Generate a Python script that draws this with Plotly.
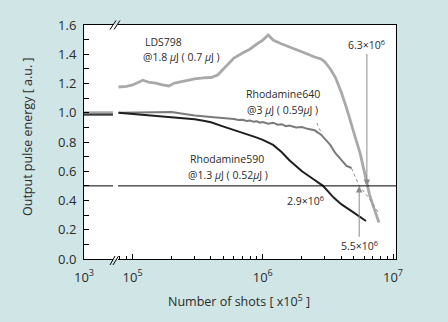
import math
import plotly.graph_objects as go

# ---- data -------------------------------------------------------------
# short initial segment (10^3 side of the broken axis)
early_shots = [1.0e3, 1.6e3, 2.5e3, 4.0e3, 5.6e3]
early_lds798 = [1.000, 1.000, 0.999, 1.000, 1.000]
early_rh640 = [0.990, 0.991, 0.990, 0.990, 0.991]
early_rh590 = [0.985, 0.984, 0.985, 0.984, 0.985]

# LDS798 @1.8 uJ (0.7 uJ)
lds798_shots = [7.8e4, 9.0e4, 1.0e5, 1.1e5, 1.2e5, 1.35e5, 1.5e5, 1.7e5, 1.9e5,
                2.1e5, 2.3e5, 2.6e5, 3.0e5, 3.5e5, 4.0e5, 4.5e5, 5.0e5, 5.5e5,
                6.0e5, 7.0e5, 8.0e5, 9.0e5, 1.0e6, 1.1e6, 1.2e6, 1.4e6, 1.6e6,
                1.8e6, 2.0e6, 2.2e6, 2.5e6, 2.8e6, 3.0e6, 3.3e6, 3.6e6, 4.0e6,
                4.4e6, 4.8e6, 5.2e6, 5.6e6, 6.0e6, 6.3e6, 6.6e6, 7.0e6, 7.5e6,
                7.8e6]
lds798_energy = [1.176, 1.180, 1.190, 1.205, 1.222, 1.207, 1.203, 1.190, 1.183,
                 1.203, 1.210, 1.224, 1.231, 1.238, 1.241, 1.258, 1.300, 1.340,
                 1.374, 1.409, 1.436, 1.470, 1.497, 1.532, 1.497, 1.470, 1.450,
                 1.436, 1.415, 1.402, 1.381, 1.368, 1.347, 1.299, 1.244, 1.142,
                 1.032, 0.909, 0.814, 0.720, 0.600, 0.500, 0.440, 0.370, 0.300,
                 0.250]

# Rhodamine640 @3 uJ (0.59 uJ)
rh640_shots = [7.8e4, 1.0e5, 1.5e5, 2.0e5, 2.5e5, 3.0e5, 4.0e5, 5.0e5, 5.5e5,
               6.0e5, 6.5e5, 7.0e5, 7.5e5, 8.0e5, 8.5e5, 9.0e5, 9.5e5, 1.0e6,
               1.1e6, 1.2e6, 1.3e6, 1.4e6, 1.5e6, 1.6e6, 1.8e6, 2.0e6, 2.2e6,
               2.5e6, 2.8e6, 3.0e6, 3.3e6, 3.6e6, 4.0e6, 4.4e6, 4.8e6]
rh640_energy = [1.000, 1.000, 1.005, 1.005, 0.991, 0.981, 0.971, 0.964, 0.958,
                0.957, 0.950, 0.952, 0.944, 0.947, 0.938, 0.942, 0.932, 0.936,
                0.925, 0.932, 0.918, 0.922, 0.908, 0.912, 0.900, 0.903, 0.890,
                0.880, 0.850, 0.820, 0.780, 0.725, 0.677, 0.636, 0.622]

# dotted extrapolations of the Rhodamine640 trend
rh640_fit_a_shots = [2.6e6, 2.9e6]
rh640_fit_a_energy = [0.930, 0.835]
rh640_fit_b_shots = [4.8e6, 5.5e6, 6.5e6, 7.8e6]
rh640_fit_b_energy = [0.620, 0.500, 0.420, 0.310]

# Rhodamine590 @1.3 uJ (0.52 uJ)
rh590_shots = [7.8e4, 1.0e5, 1.5e5, 2.0e5, 2.5e5, 3.0e5, 3.5e5, 4.0e5, 5.0e5,
               6.0e5, 7.0e5, 8.0e5, 9.0e5, 1.0e6, 1.2e6, 1.4e6, 1.6e6, 2.0e6,
               2.5e6, 2.9e6, 3.5e6, 4.0e6, 5.0e6, 6.2e6]
rh590_energy = [1.000, 0.992, 0.978, 0.970, 0.962, 0.955, 0.945, 0.935, 0.905,
                0.880, 0.860, 0.845, 0.830, 0.815, 0.780, 0.730, 0.675, 0.600,
                0.540, 0.500, 0.420, 0.375, 0.317, 0.260]

threshold = 0.5
lifetime_rh590 = 2.9e6
lifetime_rh640 = 5.5e6
lifetime_lds798 = 6.3e6

y_ticks = [0.0, 0.2, 0.4, 0.6, 0.8, 1.0, 1.2, 1.4, 1.6]
x2_ticks = [1e5, 1e6, 1e7]
x2_ticktext = ["10<sup>5</sup>", "10<sup>6</sup>", "10<sup>7</sup>"]

# ---- styling ------------------------------------------------------------
BG = "#cfe5e6"
FONT = "Open Sans"
TXT = "#2b2b2b"
C_LDS = "#a9a9a9"
C_640 = "#7a7a7a"
C_590 = "#1f1f1f"

W, H = 448, 322
L, R, T, B = 84, 396, 25, 259  # plot box in pixels
BREAK_L, BREAK_R = 113, 118


def px(xp):
    return (xp - L) / (R - L)


def py(yp):
    return (B - yp) / (B - T)


fig = go.Figure()

# early segment
for ys, col, w in [(early_lds798, C_LDS, 3), (early_rh640, C_640, 2.2),
                   (early_rh590, C_590, 1.2)]:
    fig.add_trace(go.Scatter(x=early_shots, y=ys, mode="lines",
                             line=dict(color=col, width=w),
                             xaxis="x", yaxis="y", showlegend=False,
                             hoverinfo="skip"))

# main segment
fig.add_trace(go.Scatter(x=lds798_shots, y=lds798_energy, mode="lines",
                         line=dict(color=C_LDS, width=2.8),
                         xaxis="x2", yaxis="y2", showlegend=False))
fig.add_trace(go.Scatter(x=rh640_shots, y=rh640_energy, mode="lines",
                         line=dict(color=C_640, width=2),
                         xaxis="x2", yaxis="y2", showlegend=False))
for xs, ys in [(rh640_fit_a_shots, rh640_fit_a_energy),
               (rh640_fit_b_shots, rh640_fit_b_energy)]:
    fig.add_trace(go.Scatter(x=xs, y=ys, mode="lines",
                             line=dict(color="#8a8a8a", width=1, dash="dot"),
                             xaxis="x2", yaxis="y2", showlegend=False))
fig.add_trace(go.Scatter(x=rh590_shots, y=rh590_energy, mode="lines",
                         line=dict(color=C_590, width=2),
                         xaxis="x2", yaxis="y2", showlegend=False))

# white filler between the two halves of the broken axis
fig.add_shape(type="rect", xref="paper", yref="paper", layer="below",
              x0=px(BREAK_L) - 0.002, x1=px(BREAK_R) + 0.002, y0=0, y1=1,
              fillcolor="#ffffff", line=dict(width=0))

# threshold line, split at the axis break
fig.add_shape(type="line", xref="x domain", yref="y", x0=0, x1=1,
              y0=threshold, y1=threshold, line=dict(color="#000", width=1))
fig.add_shape(type="line", xref="x2 domain", yref="y2", x0=0, x1=1,
              y0=threshold, y1=threshold, line=dict(color="#000", width=1))

# axis-break marks on the bottom and top frame lines
for (x0, y0, x1, y1) in [(110, 265, 115, 256), (113, 265, 118.5, 256),
                         (110, 29.5, 116, 20.5), (114, 29.5, 120, 20.5)]:
    fig.add_shape(type="line", xref="paper", yref="paper",
                  x0=px(x0), y0=py(y0), x1=px(x1), y1=py(y1),
                  line=dict(color="#000", width=1))

axis_common = dict(showline=True, linecolor="#000", linewidth=1,
                   showgrid=False, zeroline=False)

fig.update_layout(
    width=W, height=H,
    margin=dict(l=L, r=W - R, t=T, b=H - B),
    paper_bgcolor=BG, plot_bgcolor="#ffffff",
    font=dict(family=FONT, size=13, color=TXT),
    xaxis=dict(domain=[0, px(BREAK_L)], type="log",
               range=[3, 3.75], tickvals=[1e3],
               ticktext=["10<sup>3</sup>"], ticks="",
               ticklabelstandoff=6, anchor="y", mirror=True, **axis_common),
    xaxis2=dict(domain=[px(BREAK_R), 1], type="log",
                range=[4.888, 7.023], tickvals=x2_ticks, ticktext=x2_ticktext,
                ticks="inside", ticklen=5, tickcolor="#000",
                minor=dict(tickvals=[8e4, 9e4, 2e5, 3e5, 4e5, 5e5, 6e5, 7e5,
                                     8e5, 9e5, 2e6, 3e6, 4e6, 5e6, 6e6, 7e6,
                                     8e6, 9e6],
                           ticks="inside", ticklen=3, tickcolor="#000"),
                ticklabelstandoff=6, anchor="y2", mirror=True, **axis_common),
    yaxis=dict(range=[0, 1.6], tickvals=y_ticks, tickformat=".1f",
               ticks="inside", ticklen=5, tickcolor="#000",
               minor=dict(dtick=0.1, ticks="inside", ticklen=5,
                          tickcolor="#000"),
               ticklabelstandoff=4, anchor="x", **axis_common),
    yaxis2=dict(range=[0, 1.6], matches="y", anchor="x2", side="right",
                showticklabels=False, ticks="", **axis_common),
)

lab = dict(size=10.5, color=TXT, family=FONT)
texts = [
    ("LDS798", 143, 42, "left"),
    ("@1.8 <i>μ</i>J ( 0.7 <i>μ</i>J )", 141, 57, "left"),
    ("Rhodamine640", 282.5, 94, "center"),
    ("@3 <i>μ</i>J ( 0.59<i>μ</i>J )", 282.5, 110, "center"),
    ("Rhodamine590", 227, 159, "center"),
    ("@1.3 <i>μ</i>J ( 0.52<i>μ</i>J )", 228, 175, "center"),
    ("2.9×10<sup>6</sup>", 305, 200, "center"),
]
for t, xp, yp, anc in texts:
    fig.add_annotation(text=t, xref="paper", yref="paper", x=px(xp), y=py(yp),
                       xanchor=anc, yanchor="middle", showarrow=False,
                       font=lab)

# lifetime arrows (labels sit at the arrow tails)
fig.add_annotation(text="6.3×10<sup>6</sup>", xref="x2", yref="y2",
                   x=math.log10(lifetime_lds798), y=threshold,
                   axref="x2", ayref="y2",
                   ax=math.log10(lifetime_lds798), ay=1.465,
                   showarrow=True, arrowhead=2, arrowsize=1.3, arrowwidth=1,
                   arrowcolor="#8c8c8c", standoff=0, startstandoff=0,
                   font=lab)
fig.add_annotation(text="5.5×10<sup>6</sup>", xref="x2", yref="y2",
                   x=math.log10(lifetime_rh640), y=threshold,
                   axref="x2", ayref="y2",
                   ax=math.log10(lifetime_rh640), ay=0.09,
                   showarrow=True, arrowhead=2, arrowsize=1.3, arrowwidth=1,
                   arrowcolor="#8c8c8c", standoff=0, startstandoff=0,
                   font=lab)

# axis titles
fig.add_annotation(text="Output pulse energy [ a.u. ]", xref="paper",
                   yref="paper", x=px(27), y=py(137), textangle=-90,
                   xanchor="center", yanchor="middle",
                   showarrow=False, font=dict(size=12.5, color=TXT,
                                              family=FONT))
fig.add_annotation(text="Number of shots [ x10<sup>5</sup> ]", xref="paper",
                   yref="paper", x=px(239), y=py(301),
                   xanchor="center", yanchor="middle", showarrow=False,
                   font=dict(size=12.5, color=TXT, family=FONT))

fig.write_html("out.html")
